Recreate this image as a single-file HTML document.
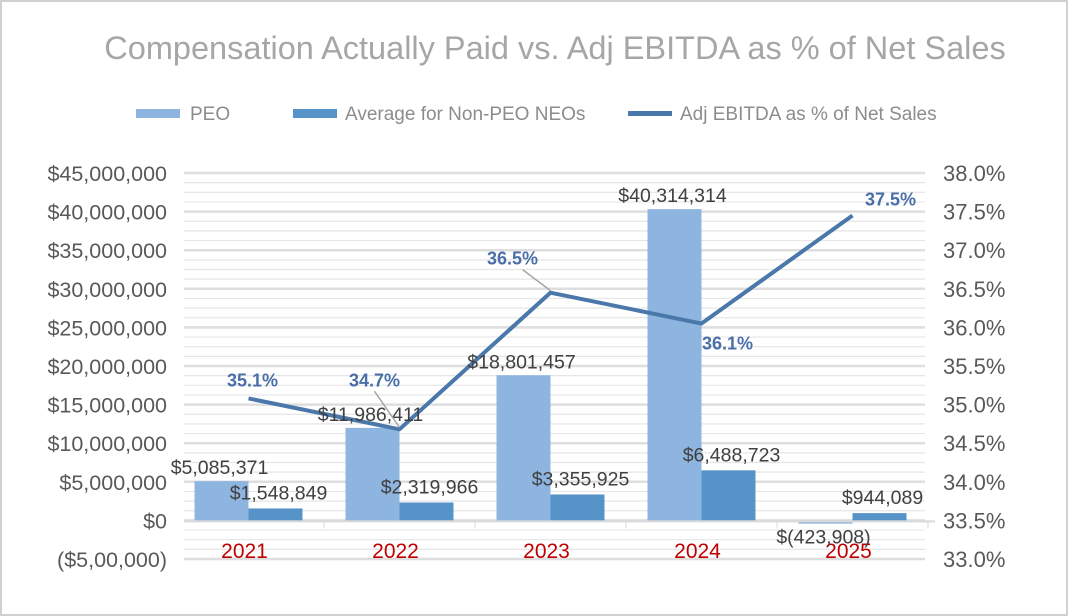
<!DOCTYPE html>
<html><head><meta charset="utf-8"><style>
body{margin:0;background:#fff;}
svg{display:block;font-family:"Liberation Sans",Arial,sans-serif;}
</style></head><body>
<svg id="chart" width="1068" height="616">
<rect x="1" y="1" width="1066" height="614" fill="#fff" stroke="#d0d0d0" stroke-width="2"/>
<text x="555" y="59" font-size="32.5" fill="#a6a6a6" text-anchor="middle">Compensation Actually Paid vs. Adj EBITDA as % of Net Sales</text>
<g>
<g><rect x="136" y="109" width="44" height="9" fill="#8eb4e0"/><text x="190" y="120" font-size="19" fill="#8c8c8c">PEO</text></g>
<g><rect x="293" y="109" width="44" height="9" fill="#5593c8"/><text x="345" y="120" font-size="19" fill="#8c8c8c">Average for Non-PEO NEOs</text></g>
<g><rect x="628" y="111" width="44" height="5" fill="#4a78aa"/><text x="680" y="120" font-size="19" fill="#8c8c8c">Adj EBITDA as % of Net Sales</text></g>
</g>
<g id="grid"></g><g id="bars"></g><g id="axes"></g><g id="line"></g><g id="labels"></g>
</svg>
<script>
const categories=["2021","2022","2023","2024","2025"];
const peoValues=[5085371,11986411,18801457,40314314,-423908];
const neoValues=[1548849,2319966,3355925,6488723,944089];
const ebitdaValues=[35.08,34.68,36.45,36.05,37.45];
const peoLabels=["$5,085,371","$11,986,411","$18,801,457","$40,314,314","$(423,908)"];
const neoLabels=["$1,548,849","$2,319,966","$3,355,925","$6,488,723","$944,089"];
const ebitdaLabels=["35.1%","34.7%","36.5%","36.1%","37.5%"];
const leftTicks=["($5,00,000)","$0","$5,000,000","$10,000,000","$15,000,000","$20,000,000","$25,000,000","$30,000,000","$35,000,000","$40,000,000","$45,000,000"];
const rightTicks=["33.0%","33.5%","34.0%","34.5%","35.0%","35.5%","36.0%","36.5%","37.0%","37.5%","38.0%"];

const NS="http://www.w3.org/2000/svg";
const L=173,R=928,T=173,B=559;
const yL=v=>B-(v+5e6)/50e6*(B-T);
const yR=v=>B-(v-33)/5*(B-T);
const step=(R-L)/categories.length;
const cx=i=>L+step*(i+0.5);
function mk(p,tag,a){const e=document.createElementNS(NS,tag);for(const k in a)e.setAttribute(k,a[k]);p.appendChild(e);return e;}
const g=id=>document.getElementById(id);

for(let k=0;k<=40;k++){
  const v=-5e6+k*1.25e6, y=yL(v), major=k%4===0;
  const ln=mk(g('grid'),'line',{x1:184,x2:925,y1:y,y2:y,stroke:major?'#dedede':'#e6e6e6','stroke-width':major?2.5:1.2});
  
  
}
leftTicks.forEach((t,i)=>{
  const e=mk(g('axes'),'text',{x:167,y:yL(-5e6+i*5e6)+8,'font-size':21.5,fill:'#595959','text-anchor':'end'});
  e.textContent=t;
  
  
});
rightTicks.forEach((t,i)=>{
  const e=mk(g('axes'),'text',{x:943,y:yR(33+i*0.5)+8,'font-size':22,fill:'#595959'});
  e.textContent=t;
  
  
});
const ax=mk(g('axes'),'line',{x1:184,x2:935,y1:yL(0)+1,y2:yL(0)+1,stroke:'#d9d9d9','stroke-width':2});


const bw=54;
categories.forEach((c,i)=>{
  const tk=mk(g('axes'),'line',{x1:L+step*(i+1),x2:L+step*(i+1),y1:yL(0),y2:yL(0)+8,stroke:'#d9d9d9','stroke-width':1});
  
  
  const t=mk(g('axes'),'text',{x:cx(i)-4,y:558,'font-size':21,fill:'#c00000','text-anchor':'middle'});
  t.textContent=c;
  
  
  const y0=yL(0);
  const p=peoValues[i], yp=yL(p);
  const b1=mk(g('bars'),'rect',{x:cx(i)-bw,y:Math.min(y0,yp),width:bw,height:Math.max(Math.abs(y0-yp),1),fill:'#8eb4e0'});
  
  
  const n=neoValues[i], yn=yL(n);
  const b2=mk(g('bars'),'rect',{x:cx(i),y:Math.min(y0,yn),width:bw,height:Math.abs(y0-yn),fill:'#5593c8'});
  
  
  const l1=mk(g('labels'),'text',{x:cx(i)-bw/2-2,y:p>=0?yp-7:y0+23,'font-size':19.5,fill:'#404040','text-anchor':'middle'});
  l1.textContent=peoLabels[i];
  
  
  const l2=mk(g('labels'),'text',{x:cx(i)+bw/2+3,y:yn-9,'font-size':19.5,fill:'#404040','text-anchor':'middle'});
  l2.textContent=neoLabels[i];
  
  
});
const pts=ebitdaValues.map((v,i)=>cx(i)+','+yR(v)).join(' ');
const pl=mk(g('line'),'polyline',{points:pts,fill:'none',stroke:'#4a78aa','stroke-width':4,'stroke-linejoin':'round'});


const offs=[[4,-12],[-25,-43],[-38,-28],[26,26],[38,-10]];
ebitdaValues.forEach((v,i)=>{
  const x=cx(i),y=yR(v),lx=x+offs[i][0],ly=y+offs[i][1];
  if(i===1||i===2){
    const ld=mk(g('labels'),'line',{x1:lx+(i===1?0:10),y1:ly+5,x2:x,y2:y-2,stroke:'#a6a6a6','stroke-width':1.5});
    
    
  }
  const t=mk(g('labels'),'text',{x:lx,y:ly,'font-size':18,'font-weight':'bold',fill:'#4a6ea8','text-anchor':'middle'});
  t.textContent=ebitdaLabels[i];
  
  
});
</script>
</body></html>
